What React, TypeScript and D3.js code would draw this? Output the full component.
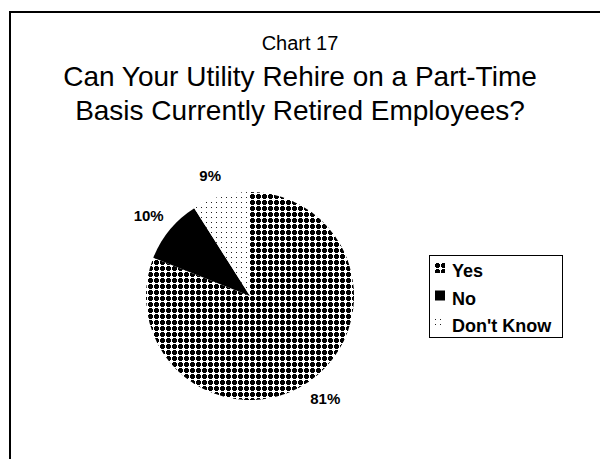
import React from 'react';
import * as d3 from 'd3';

const categories = ['Yes', 'No', "Don't Know"];
const values = [81, 10, 9];
const labels = ['81%', '10%', '9%'];
const fills = ['url(#patYes)', '#000', 'url(#patDK)'];

const width = 600;
const height = 459;
const cx = 250;
const cy = 296;
const radius = 104;
const labelRadius = 125;

const App = () => {
  const pie = d3.pie<number>().value((d) => d).sort(null);
  const arcs = pie(values);
  const arc = d3.arc<d3.PieArcDatum<number>>().innerRadius(0).outerRadius(radius);

  const font = '"Liberation Sans", Arial, sans-serif';

  return (
    <svg
      width={width}
      height={height}
      style={{ position: 'absolute', left: 0, top: 0, background: '#fff' }}
    >
      <defs>
        <pattern id="patYes" width={6} height={6} patternUnits="userSpaceOnUse">
          <rect width={6} height={6} fill="#fff" />
          <rect x={1} y={0} width={3} height={5} fill="#000" />
          <rect x={0} y={1} width={5} height={3} fill="#000" />
        </pattern>
        <pattern id="patDK" width={5} height={5} patternUnits="userSpaceOnUse">
          <rect width={5} height={5} fill="#fff" />
          <rect x={1} y={1} width={1} height={1} fill="#222" />
        </pattern>
      </defs>

      <rect x={10} y={12} width={700} height={600} fill="none" stroke="#000" strokeWidth={2} />

      <text x={300} y={50} textAnchor="middle" fontFamily={font} fontSize={20}>
        Chart 17
      </text>
      <text x={300} y={86} textAnchor="middle" fontFamily={font} fontSize={28}>
        Can Your Utility Rehire on a Part-Time
      </text>
      <text x={300} y={120} textAnchor="middle" fontFamily={font} fontSize={28}>
        Basis Currently Retired Employees?
      </text>

      <g transform={`translate(${cx},${cy})`}>
        {arcs.map((a, i) => (
          <path key={categories[i]} d={arc(a) || ''} fill={fills[i]} />
        ))}
        {arcs.map((a, i) => {
          const mid = (a.startAngle + a.endAngle) / 2;
          const s = Math.sin(mid);
          const x = labelRadius * s + Math.sign(s) * 5;
          const y = -labelRadius * Math.cos(mid);
          return (
            <text
              key={'l' + i}
              x={x}
              y={y + 5}
              textAnchor="middle"
              fontFamily={font}
              fontSize={15}
              fontWeight="bold"
            >
              {labels[i]}
            </text>
          );
        })}
      </g>

      <g transform="translate(429,255)">
        <rect x={0.5} y={0.5} width={133} height={82} fill="#fff" stroke="#000" strokeWidth={1} />
        {categories.map((c, i) => (
          <g key={c} transform={`translate(0,${8 + i * 27.5})`}>
            <rect x={6} y={0} width={10} height={10} fill={fills[i]} />
            <text x={23} y={14} fontFamily={font} fontSize={18} fontWeight="bold">
              {c}
            </text>
          </g>
        ))}
      </g>
    </svg>
  );
};

export default App;
